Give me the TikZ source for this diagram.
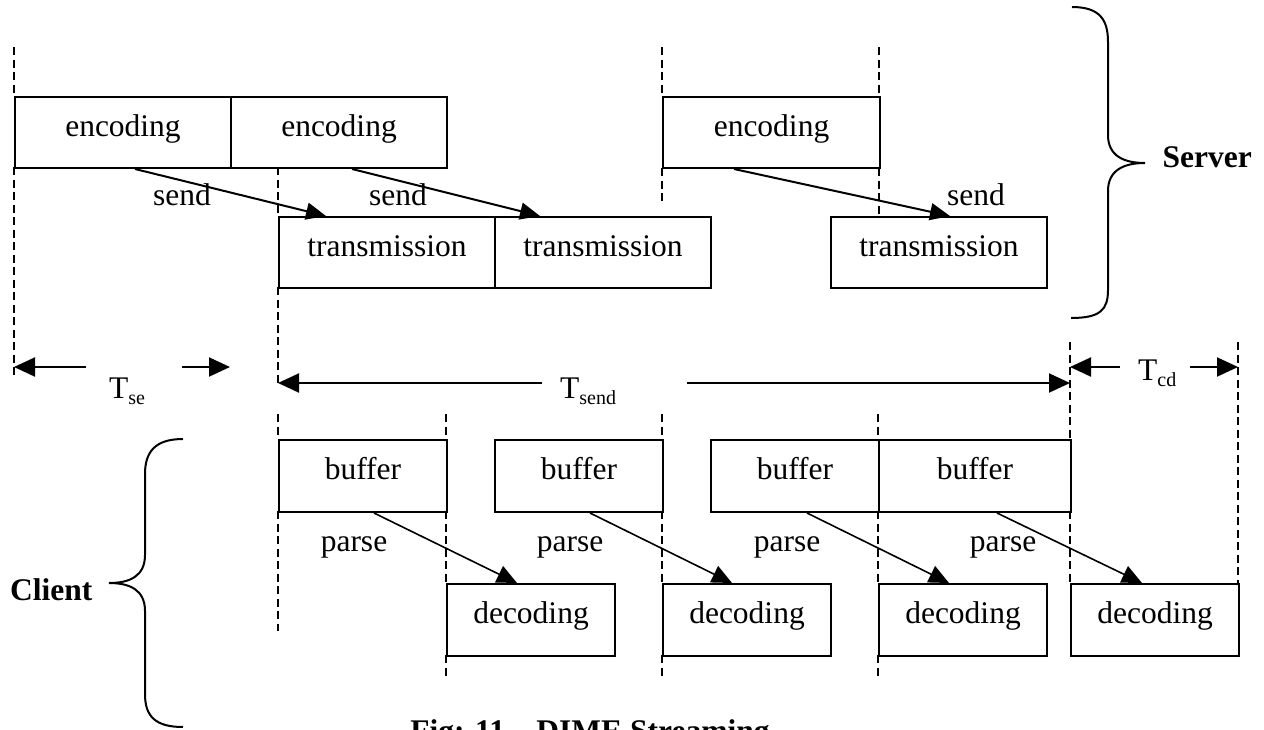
\documentclass[tikz,border=0pt]{standalone}
\usepackage{fontspec}
\setmainfont{Liberation Serif}
\usetikzlibrary{arrows.meta,calc}
\begin{document}
\begin{tikzpicture}[x=1pt,y=-1pt,
  every node/.style={font=\fontsize{31.5}{36}\selectfont},
  box/.style={draw,line width=2pt,fill=white,inner sep=0pt,anchor=north west,
    minimum height=71pt,text height=14pt,text depth=7pt},
  guide/.style={line width=1.6pt,dash pattern=on 8pt off 4.5pt},
  flow/.style={line width=2pt,-{Triangle[length=20pt,width=17pt]}},
  parseflow/.style={line width=1.6pt,-{Triangle[length=20pt,width=18pt]}},
  dim/.style={line width=2pt,-{Triangle[length=21pt,width=19pt]}},
  brace/.style={line width=2pt},
  lbl/.style={anchor=base},
  side/.style={font=\fontsize{31.5}{36}\selectfont\bfseries},
  sub/.style={}]
\useasboundingbox (0,0) rectangle (1264,729);
\clip (0,0) rectangle (1264,729);

% time guides
\draw[guide] (14,47) -- (14,96) (14,167) -- (14,378);
\draw[guide] (278,167) -- (278,216) (278,287) -- (278,383)
             (278,414) -- (278,439) (278,511) -- (278,631);
\draw[guide] (446,414) -- (446,439) (446,511) -- (446,583) (446,655) -- (446,678);
\draw[guide] (662,47) -- (662,96) (662,168) -- (662,203)
             (662,414) -- (662,439) (662,511) -- (662,583) (662,655) -- (662,678);
\draw[guide] (879,47) -- (879,96) (879,168) -- (879,216);
\draw[guide] (878,414) -- (878,439) (878,511) -- (878,583) (878,655) -- (878,678);
\draw[guide] (1070,342) -- (1070,439) (1070,511) -- (1070,583);
\draw[guide] (1238,342) -- (1238,583);

% server side
\node[box,minimum width=216pt] (enc1) at (14,96) {encoding};
\node[box,minimum width=216pt] (enc2) at (230,96) {encoding};
\node[box,minimum width=217pt] (enc3) at (662,96) {encoding};
\node[box,minimum width=216pt] (tr1) at (278,216) {transmission};
\node[box,minimum width=216pt] (tr2) at (494,216) {transmission};
\node[box,minimum width=216pt] (tr3) at (830,216) {transmission};

\draw[flow] ($(enc1.south west)+(121,0)$) -- ($(tr1.north west)+(48,0)$);
\draw[flow] ($(enc2.south west)+(122,0)$) -- ($(tr2.north west)+(46,0)$);
\draw[flow] ($(enc3.south west)+(72,0)$) -- ($(tr3.north west)+(120,0)$);
\node[lbl] (s1) at (182,205) {send};
\node[lbl] (s2) at (398,205) {send};
\node[lbl] (s3) at (976,205) {send};

% client side
\node[box,minimum width=168pt,minimum height=72pt] (buf1) at (278,439) {buffer};
\node[box,minimum width=168pt,minimum height=72pt] (buf2) at (494,439) {buffer};
\node[box,minimum width=168pt,minimum height=72pt] (buf3) at (710,439) {buffer};
\node[box,minimum width=192pt,minimum height=72pt] (buf4) at (878,439) {buffer};
\node[box,minimum width=168pt,minimum height=72pt] (dec1) at (446,583) {decoding};
\node[box,minimum width=168pt,minimum height=72pt] (dec2) at (662,583) {decoding};
\node[box,minimum width=168pt,minimum height=72pt] (dec3) at (878,583) {decoding};
\node[box,minimum width=168pt,minimum height=72pt] (dec4) at (1070,583) {decoding};

\draw[parseflow] ($(buf1.south west)+(96,0)$) -- ($(dec1.north west)+(71,0)$);
\draw[parseflow] ($(buf2.south west)+(96,0)$) -- ($(dec2.north west)+(70,0)$);
\draw[parseflow] ($(buf3.south west)+(97,0)$) -- ($(dec3.north west)+(71,0)$);
\draw[parseflow] ($(buf4.south west)+(119,0)$) -- ($(dec4.north west)+(72,0)$);
\node[lbl] (p1) at (354,551) {parse};
\node[lbl] (p2) at (570,551) {parse};
\node[lbl] (p3) at (787,551) {parse};
\node[lbl] (p4) at (1003,551) {parse};

% intervals
\coordinate (seL) at (14,367);   \coordinate (seLa) at (86,367);
\coordinate (seR) at (230,367);  \coordinate (seRa) at (182,367);
\coordinate (sdL) at (278,383);  \coordinate (sdLa) at (542,383);
\coordinate (sdR) at (1070,383); \coordinate (sdRa) at (687,383);
\coordinate (cdL) at (1070,367); \coordinate (cdLa) at (1120,367);
\coordinate (cdR) at (1238,367); \coordinate (cdRa) at (1190,367);
\draw[dim] (seLa) -- (seL);
\draw[dim] (seRa) -- (seR);
\draw[dim] (sdLa) -- (sdL);
\draw[dim] (sdRa) -- (sdR);
\draw[dim] (cdLa) -- (cdL);
\draw[dim] (cdRa) -- (cdR);
\node[anchor=base west,inner sep=0pt] (tse) at (109,398)
  {T\raisebox{-6pt}{\fontsize{20}{20}\selectfont se}};
\node[anchor=base west,inner sep=0pt] (tsend) at (560,398)
  {T\raisebox{-6pt}{\fontsize{20}{20}\selectfont send}};
\node[anchor=base west,inner sep=0pt] (tcd) at (1138,380)
  {T\raisebox{-6pt}{\fontsize{20}{20}\selectfont cd}};

% braces
\draw[brace] (1072,7) .. controls (1100,7) and (1108,20) .. (1108,42)
  -- (1108,135) .. controls (1108,156) and (1124,163) .. (1145,163)
  .. controls (1124,163) and (1108,170) .. (1108,191)
  -- (1108,290) .. controls (1108,310) and (1100,318) .. (1071,318);
\node[side,anchor=base east,inner sep=0pt] (server) at (1252,167) {Server};

\draw[brace] (183,439) .. controls (155,439) and (145,452) .. (145,474)
  -- (145,555) .. controls (145,576) and (130,583) .. (109,583)
  .. controls (130,583) and (145,590) .. (145,611)
  -- (145,694) .. controls (145,716) and (155,727) .. (183,727);
\node[side,anchor=base west,inner sep=0pt] (client) at (10,600) {Client};

% caption
\node[side,anchor=base] (caption) at (590,741) {Fig: 11 – DIME Streaming};
\end{tikzpicture}
\end{document}
